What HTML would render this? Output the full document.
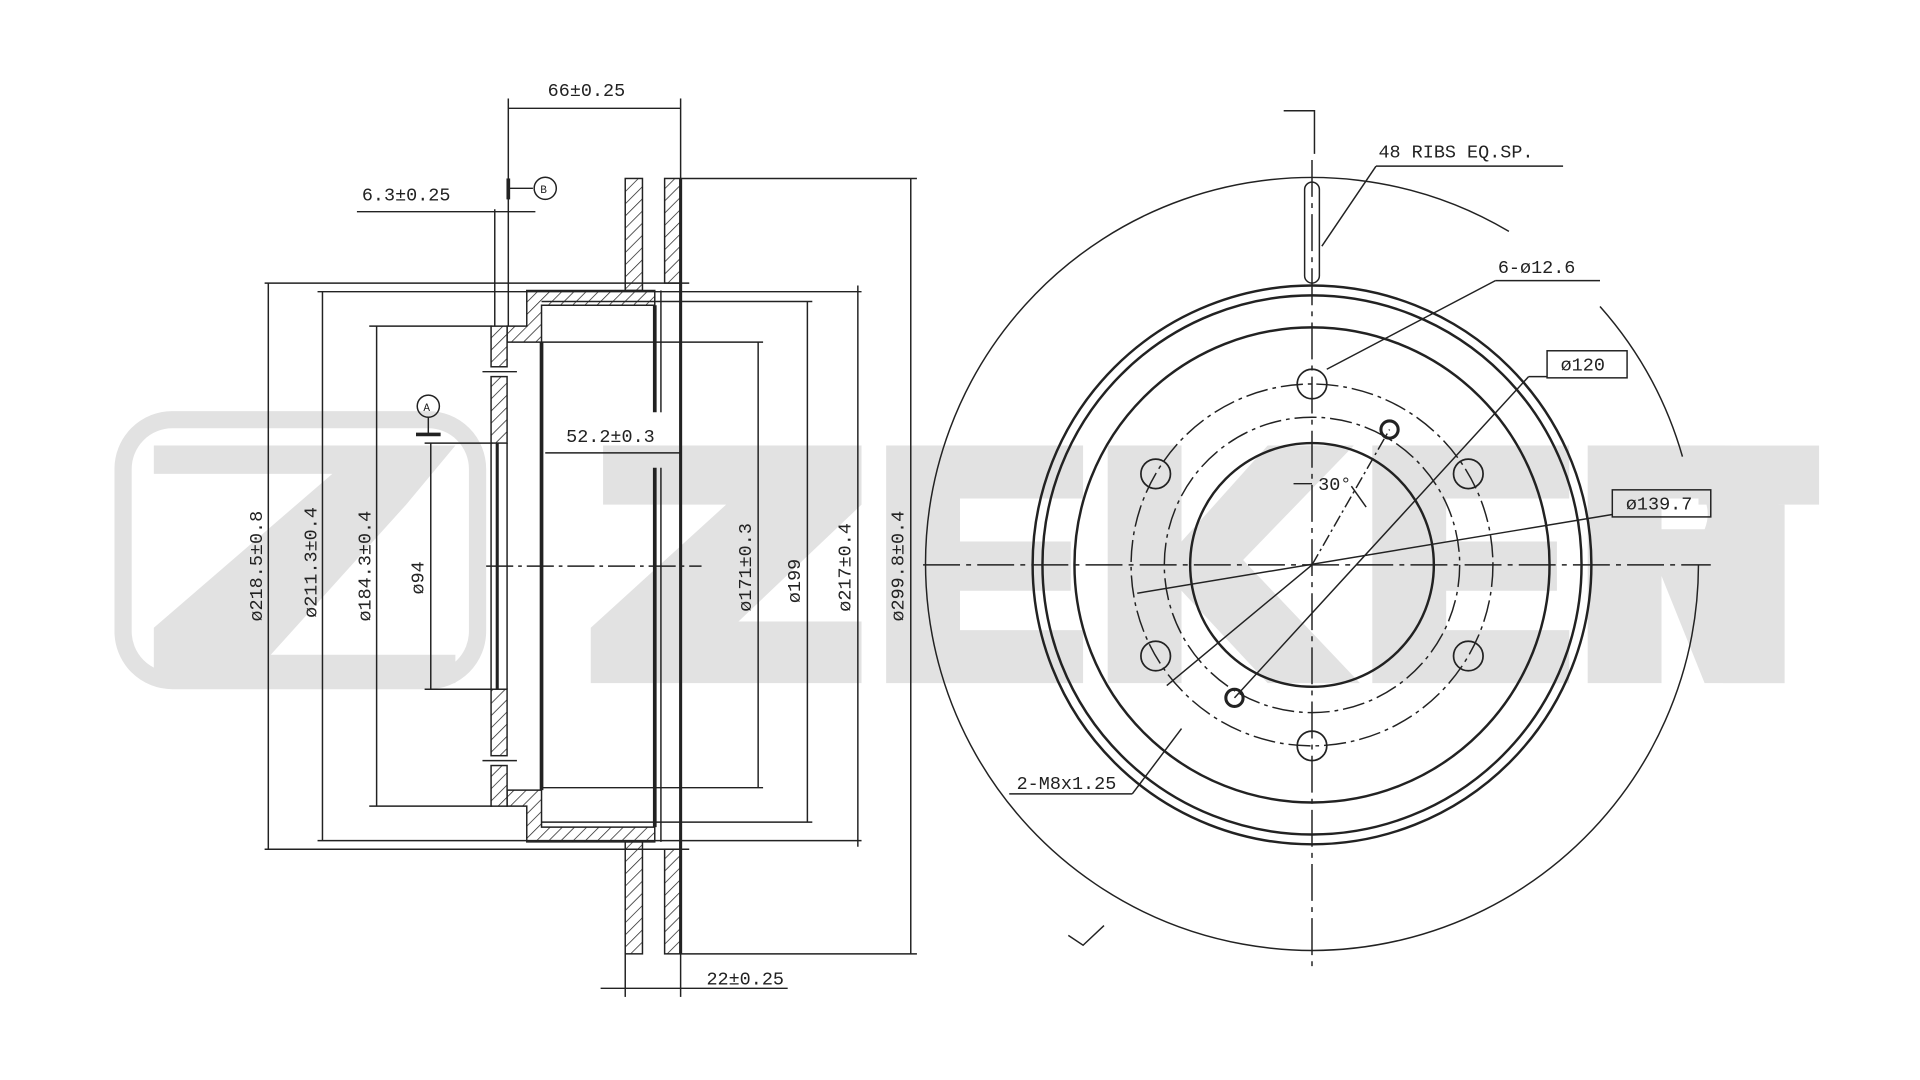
<!DOCTYPE html>
<html><head><meta charset="utf-8"><style>
html,body{margin:0;padding:0;background:#fff;width:1920px;height:1080px;overflow:hidden}
svg{display:block}
text{font-family:"Liberation Mono","DejaVu Sans Mono",monospace;font-size:15px;fill:#222}
</style></head><body>
<svg width="1920" height="1080" viewBox="0 0 1560 877.5" preserveAspectRatio="none" xmlns="http://www.w3.org/2000/svg">
<defs>
<pattern id="h" width="7" height="7" patternUnits="userSpaceOnUse" patternTransform="rotate(45)">
<rect width="7" height="7" fill="#fff"/><line x1="0" y1="0" x2="0" y2="7" stroke="#222" stroke-width="1.2"/></pattern>
</defs>
<!-- watermark -->
<g fill="#e2e2e2">
<rect x="100" y="341" width="288" height="212" rx="40" fill="none" stroke="#e2e2e2" stroke-width="14"/>
<polygon points="125,362 370,362 330,410 220,532 370,532 370,555 125,555 125,510 270,385 125,385"/>
<polygon points="490,362 700,362 700,410 600,505 700,505 700,555 480,555 480,510 590,410 490,410"/>
<polygon points="720,362 880,362 880,405 780,405 780,440 870,440 870,480 780,480 780,512 880,512 880,555 720,555"/>
<polygon points="900,362 960,362 960,440 1030,362 1100,362 1010,455 1105,555 1030,555 960,480 960,555 900,555"/>
<polygon points="1115,362 1275,362 1275,405 1175,405 1175,440 1265,440 1265,480 1175,480 1175,512 1275,512 1275,555 1115,555"/>
<path d="M1290 362 H1400 Q1445 362 1445 410 Q1445 450 1410 460 L1450 555 H1385 L1350 468 H1350 V555 H1290 Z M1350 405 V430 H1385 Q1390 418 1385 405 Z"/>
<rect x="1380" y="362" width="98" height="48"/><rect x="1400" y="410" width="50" height="145"/>
</g>

<g stroke="#222" fill="none" stroke-width="1.2">
<!-- LEFT VIEW -->
<line x1="395" y1="460" x2="570" y2="460" stroke-dasharray="22,4,3,4"/>
<!-- disc plates (top/bottom only) -->
<rect x="508" y="145" width="14" height="91" fill="url(#h)"/>
<rect x="540" y="145" width="13" height="85" fill="url(#h)"/>
<rect x="508" y="684" width="14" height="91" fill="url(#h)"/>
<rect x="540" y="690" width="13" height="85" fill="url(#h)"/>
<!-- hat -->
<path d="M428 236 H532 V248 H440 V278 H412 V265 H428 Z" fill="url(#h)"/>
<path d="M428 684 H532 V672 H440 V642 H412 V655 H428 Z" fill="url(#h)"/>
<rect x="399" y="265" width="13" height="33" fill="url(#h)"/>
<rect x="399" y="306" width="13" height="54" fill="url(#h)"/>
<rect x="399" y="560" width="13" height="54" fill="url(#h)"/>
<rect x="399" y="622" width="13" height="33" fill="url(#h)"/>
<line x1="399" y1="360" x2="399" y2="560"/>
<line x1="404" y1="360" x2="404" y2="560" stroke-width="2.5"/>
<line x1="412" y1="360" x2="412" y2="560"/>
<line x1="392" y1="302" x2="420" y2="302"/>
<line x1="392" y1="618" x2="420" y2="618"/>
<line x1="440" y1="278" x2="440" y2="642" stroke-width="3"/>
<line x1="532" y1="248" x2="532" y2="335" stroke-width="3"/>
<line x1="537" y1="236" x2="537" y2="335"/>
<line x1="532" y1="380" x2="532" y2="672" stroke-width="3"/>
<line x1="537" y1="380" x2="537" y2="684"/>
<line x1="553" y1="145" x2="553" y2="775" stroke-width="2.5"/>
<!-- extension lines -->
<line x1="215" y1="230" x2="560" y2="230"/>
<line x1="215" y1="690" x2="560" y2="690"/>
<line x1="258" y1="237" x2="700" y2="237"/>
<line x1="258" y1="683" x2="700" y2="683"/>
<line x1="300" y1="265" x2="400" y2="265"/>
<line x1="300" y1="655" x2="400" y2="655"/>
<line x1="440" y1="245" x2="660" y2="245"/>
<line x1="440" y1="668" x2="660" y2="668"/>
<line x1="440" y1="278" x2="620" y2="278"/>
<line x1="440" y1="640" x2="620" y2="640"/>
<line x1="553" y1="145" x2="745" y2="145"/>
<line x1="553" y1="775" x2="745" y2="775"/>
<line x1="345" y1="360" x2="400" y2="360"/>
<line x1="345" y1="560" x2="400" y2="560"/>
<!-- vertical dims -->
<line x1="218" y1="230" x2="218" y2="690"/>
<line x1="262" y1="237" x2="262" y2="683"/>
<line x1="306" y1="265" x2="306" y2="655"/>
<line x1="350" y1="360" x2="350" y2="560"/>
<line x1="616" y1="278" x2="616" y2="640"/>
<line x1="656" y1="245" x2="656" y2="668"/>
<line x1="697" y1="232" x2="697" y2="688"/>
<line x1="740" y1="145" x2="740" y2="775"/>
<!-- top dims -->
<line x1="413" y1="80" x2="413" y2="265"/>
<line x1="553" y1="80" x2="553" y2="145"/>
<line x1="413" y1="88" x2="553" y2="88"/>
<line x1="402" y1="170" x2="402" y2="265"/>
<line x1="290" y1="172" x2="435" y2="172"/>
<line x1="413" y1="145" x2="413" y2="162" stroke-width="3"/>
<line x1="413" y1="153" x2="433" y2="153"/>
<circle cx="443" cy="153" r="9"/>
<circle cx="348" cy="330" r="9"/>
<line x1="348" y1="339" x2="348" y2="352"/>
<line x1="338" y1="353" x2="358" y2="353" stroke-width="3"/>
<line x1="443" y1="368" x2="553" y2="368"/>
<line x1="508" y1="775" x2="508" y2="810"/>
<line x1="553" y1="775" x2="553" y2="810"/>
<line x1="488" y1="803" x2="640" y2="803"/>

<!-- RIGHT VIEW  center 1066,459 -->
<line x1="750" y1="459" x2="1390" y2="459" stroke-dasharray="30,5,4,5"/>
<line x1="1066" y1="130" x2="1066" y2="785" stroke-dasharray="30,5,4,5"/>
<polyline points="1043,90 1068,90 1068,125"/>
<!-- outer circle r=314 with gaps -->
<path d="M1380 459 A314 314 0 1 1 1226 188"/>
<path d="M1300 249 A314 314 0 0 1 1367 371"/>
<circle cx="1066" cy="459" r="227" stroke-width="2"/>
<circle cx="1066" cy="459" r="219" stroke-width="2"/>
<circle cx="1066" cy="459" r="193" stroke-width="2"/>
<circle cx="1066" cy="459" r="99" stroke-width="2"/>
<circle cx="1066" cy="459" r="147" stroke-dasharray="18,4,3,4"/>
<circle cx="1066" cy="459" r="120" stroke-dasharray="18,4,3,4"/>
<polyline points="868,760 880,768 897,752"/>
<rect x="1060" y="148" width="12" height="82" rx="6"/>
<g stroke-width="1.4">
<circle cx="1066" cy="312" r="12"/><circle cx="939" cy="385" r="12"/><circle cx="1193" cy="385" r="12"/>
<circle cx="939" cy="533" r="12"/><circle cx="1193" cy="533" r="12"/><circle cx="1066" cy="606" r="12"/>
<circle cx="1129" cy="349" r="7" stroke-width="2.5"/><circle cx="1003" cy="567" r="7" stroke-width="2.5"/>
</g>
<!-- leaders -->
<line x1="1074" y1="200" x2="1118" y2="135"/><line x1="1118" y1="135" x2="1270" y2="135"/>
<line x1="1078" y1="300" x2="1215" y2="228"/><line x1="1215" y1="228" x2="1300" y2="228"/>
<line x1="1003" y1="567" x2="1242" y2="306"/><line x1="1242" y1="306" x2="1257" y2="306"/>
<rect x="1257" y="285" width="65" height="22"/>
<line x1="924" y1="482" x2="1310" y2="418"/>
<rect x="1310" y="398" width="80" height="22"/>
<line x1="960" y1="592" x2="920" y2="645"/><line x1="820" y1="645" x2="920" y2="645"/>
<line x1="1066" y1="459" x2="1129" y2="349" stroke-dasharray="10,3,2,3"/>
<line x1="1066" y1="459" x2="948" y2="557"/>
<line x1="1051" y1="393" x2="1066" y2="393"/>
<line x1="1098" y1="395" x2="1110" y2="412"/>
</g>
<text x="445" y="78">66±0.25</text>
<text x="294" y="163">6.3±0.25</text>
<text x="460" y="359">52.2±0.3</text>
<text x="574" y="800">22±0.25</text>
<text x="1120" y="128">48 RIBS EQ.SP.</text>
<text x="1217" y="222">6-ø12.6</text>
<text x="1268" y="301">ø120</text>
<text x="1321" y="414">ø139.7</text>
<text x="1071" y="398">30°</text>
<text x="826" y="641">2-M8x1.25</text>
<text x="439" y="157" style="font-size:9px">B</text>
<text x="344" y="334" style="font-size:9px">A</text>
<g style="font-size:14px">
<text transform="translate(213,505) rotate(-90)">ø218.5±0.8</text>
<text transform="translate(257,502) rotate(-90)">ø211.3±0.4</text>
<text transform="translate(301,505) rotate(-90)">ø184.3±0.4</text>
<text transform="translate(344,483) rotate(-90)">ø94</text>
<text transform="translate(610,497) rotate(-90)">ø171±0.3</text>
<text transform="translate(650,490) rotate(-90)">ø199</text>
<text transform="translate(691,497) rotate(-90)">ø217±0.4</text>
<text transform="translate(734,505) rotate(-90)">ø299.8±0.4</text>
</g>
</svg>
</body></html>
